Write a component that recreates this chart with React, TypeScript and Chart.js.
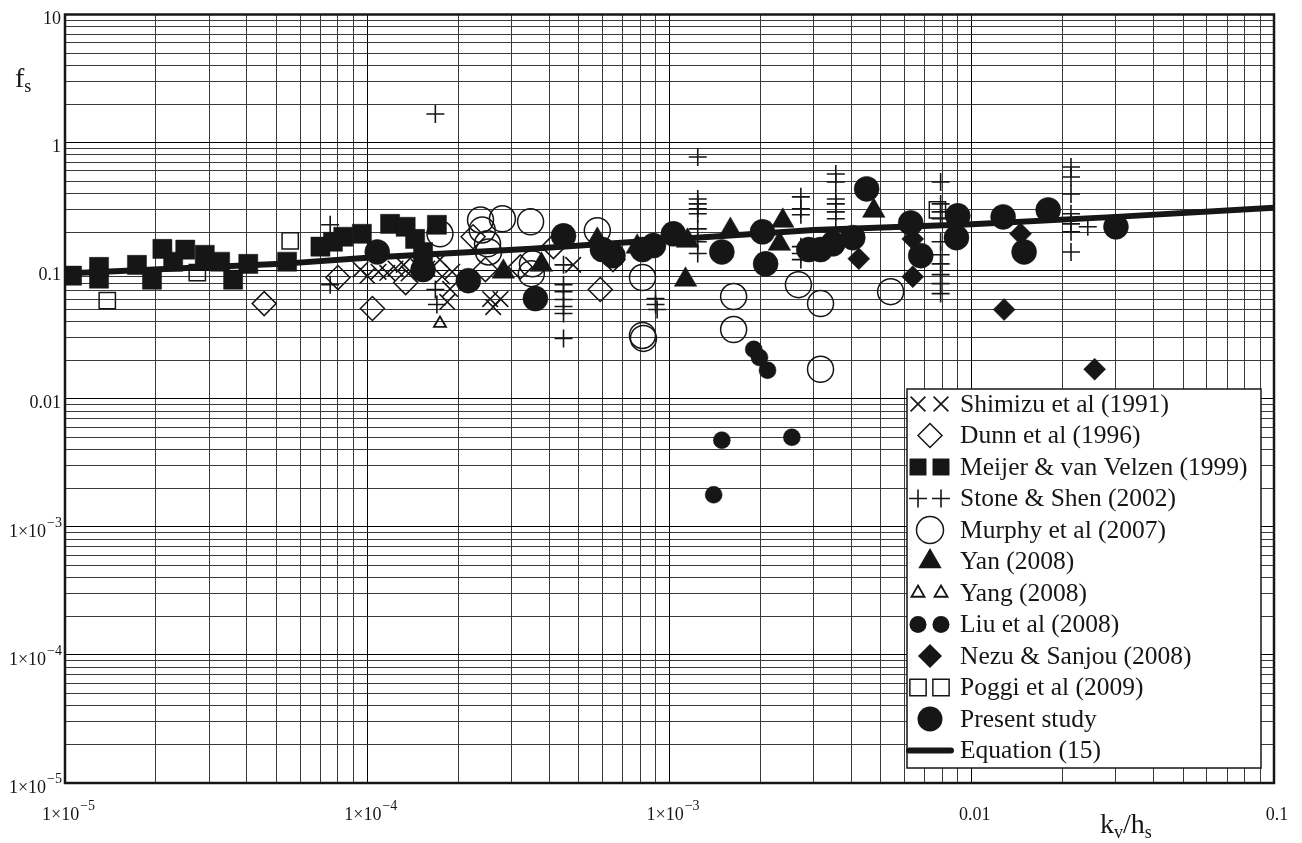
import React, { useEffect, useRef } from "react";
import { Chart, registerables } from "chart.js";
Chart.register(...registerables);

type Pt = [number, number];

// ---------- data (x = kv/hs, y = fs) ----------
const shimizu: Pt[] = [
  [9.5e-5, 0.102], [1.0e-4, 0.091], [1.09e-4, 0.098], [1.165e-4, 0.096], [1.24e-4, 0.104],
  [1.32e-4, 0.111], [1.37e-4, 0.095], [1.48e-4, 0.107], [1.58e-4, 0.104], [1.74e-4, 0.122],
  [1.77e-4, 0.09], [1.91e-4, 0.098], [1.88e-4, 0.072], [1.84e-4, 0.057], [2.55e-4, 0.06],
  [2.76e-4, 0.06], [2.61e-4, 0.052], [4.8e-4, 0.111],
];
const dunn: Pt[] = [
  [4.56e-5, 0.0553], [8.0e-5, 0.0883], [1.04e-4, 0.0506], [1.34e-4, 0.0807], [2.24e-4, 0.184],
  [2.46e-4, 0.102], [3.21e-4, 0.107], [4.13e-4, 0.154], [5.9e-4, 0.0712], [6.5e-4, 0.122],
];
const meijer: Pt[] = [
  [1.055e-5, 0.0914], [1.296e-5, 0.107], [1.296e-5, 0.0866], [1.73e-5, 0.111], [1.94e-5, 0.085],
  [2.1e-5, 0.148], [2.28e-5, 0.1175], [2.5e-5, 0.146], [2.9e-5, 0.133], [3.26e-5, 0.1175],
  [3.6e-5, 0.085], [4.04e-5, 0.113], [5.43e-5, 0.1175], [7.0e-5, 0.154], [7.7e-5, 0.168],
  [8.33e-5, 0.184], [9.6e-5, 0.194], [1.19e-4, 0.232], [1.34e-4, 0.22], [1.44e-4, 0.177],
  [1.7e-4, 0.228], [1.53e-4, 0.14],
];
const stone: Pt[] = [
  [7.54e-5, 0.228], [7.54e-5, 0.0778], [1.68e-4, 1.67], [1.68e-4, 0.0712], [1.7e-4, 0.0544],
  [4.46e-4, 0.111], [4.46e-4, 0.0778], [4.46e-4, 0.0686], [4.46e-4, 0.0595], [4.46e-4, 0.0525],
  [4.46e-4, 0.0463], [4.46e-4, 0.0296],
  [8.99e-4, 0.0605], [8.99e-4, 0.0544], [9.1e-4, 0.0497],
  [1.24e-3, 0.771], [1.24e-3, 0.363], [1.24e-3, 0.332], [1.24e-3, 0.304], [1.24e-3, 0.278],
  [1.24e-3, 0.212], [1.24e-3, 0.168], [1.24e-3, 0.136],
  [2.72e-3, 0.377], [2.72e-3, 0.304], [2.72e-3, 0.273], [2.72e-3, 0.154], [2.72e-3, 0.136], [2.72e-3, 0.122],
  [3.55e-3, 0.569], [3.55e-3, 0.493], [3.55e-3, 0.363], [3.55e-3, 0.332], [3.55e-3, 0.288], [3.55e-3, 0.254],
  [7.89e-3, 0.493], [7.89e-3, 0.332], [7.89e-3, 0.288], [7.89e-3, 0.254], [7.89e-3, 0.168],
  [7.89e-3, 0.133], [7.89e-3, 0.113], [7.89e-3, 0.0931], [7.89e-3, 0.0792], [7.89e-3, 0.0662],
  [2.13e-2, 0.645], [2.13e-2, 0.539], [2.13e-2, 0.397], [2.13e-2, 0.278], [2.13e-2, 0.232],
  [2.13e-2, 0.201], [2.13e-2, 0.14], [2.42e-2, 0.22],
];
const murphy: Pt[] = [
  [1.74e-4, 0.194], [2.37e-4, 0.249], [2.4e-4, 0.208], [2.5e-4, 0.162], [2.52e-4, 0.14],
  [2.8e-4, 0.254], [3.47e-4, 0.241], [3.52e-4, 0.113], [3.49e-4, 0.0948], [5.77e-4, 0.205],
  [8.14e-4, 0.0883], [8.14e-4, 0.0312], [8.2e-4, 0.0296], [1.63e-3, 0.0628], [1.63e-3, 0.0347],
  [2.67e-3, 0.0778], [3.16e-3, 0.0553], [3.16e-3, 0.017], [5.39e-3, 0.0686],
];
const yan: Pt[] = [
  [2.82e-4, 0.0982], [3.77e-4, 0.111], [5.77e-4, 0.174], [7.82e-4, 0.154], [1.147e-3, 0.171],
  [1.13e-3, 0.085], [1.59e-3, 0.208], [2.37e-3, 0.245], [2.31e-3, 0.162], [4.74e-3, 0.293],
];
const yang: Pt[] = [[1.74e-4, 0.0387]];
const liu: Pt[] = [
  [1.4e-3, 1.78e-3], [1.49e-3, 4.75e-3], [2.54e-3, 5.0e-3], [1.9e-3, 0.0243], [1.985e-3, 0.021],
  [2.11e-3, 0.0167],
];
const nezu: Pt[] = [
  [4.23e-3, 0.124], [6.38e-3, 0.177], [6.38e-3, 0.0897], [1.45e-2, 0.194], [1.28e-2, 0.0497],
  [2.55e-2, 0.017],
];
const poggi: Pt[] = [[1.38e-5, 0.0584], [2.74e-5, 0.0965], [5.56e-5, 0.171], [7.7e-3, 0.298]];
const present: Pt[] = [
  [1.079e-4, 0.14], [1.53e-4, 0.102], [2.16e-4, 0.0836], [3.6e-4, 0.0605], [4.46e-4, 0.187],
  [6.0e-4, 0.146], [6.5e-4, 0.131], [8.14e-4, 0.146], [8.85e-4, 0.157], [1.03e-3, 0.194],
  [1.49e-3, 0.14], [2.03e-3, 0.201], [2.08e-3, 0.113], [2.89e-3, 0.146], [3.16e-3, 0.146],
  [3.47e-3, 0.162], [4.04e-3, 0.181], [4.49e-3, 0.435], [6.28e-3, 0.236], [6.78e-3, 0.131],
  [8.99e-3, 0.268], [8.9e-3, 0.181], [1.27e-2, 0.263], [1.49e-2, 0.14], [1.79e-2, 0.298],
  [3.0e-2, 0.22],
];
const eqX = [1e-5, 5.2e-5, 1e-4, 3.5e-4, 1e-3, 3e-3, 1e-2, 3e-2, 0.1];
const eqY = [0.095, 0.113, 0.126, 0.148, 0.175, 0.208, 0.23, 0.263, 0.31];

const legendLabels = [
  "Shimizu et al (1991)", "Dunn et al (1996)", "Meijer & van Velzen (1999)", "Stone & Shen (2002)",
  "Murphy et al (2007)", "Yan (2008)", "Yang (2008)", "Liu et al (2008)", "Nezu & Sanjou (2008)",
  "Poggi et al (2009)", "Present study", "Equation (15)",
];

const xTickValues = [1e-5, 1e-4, 1e-3, 0.01, 0.1];
const xTickLabels = ["1×10^−5", "1×10^−4", "1×10^−3", "0.01", "0.1"];
const yTickValues = [10, 1, 0.1, 0.01, 1e-3, 1e-4, 1e-5];
const yTickLabels = ["10", "1", "0.1", "0.01", "1×10^−3", "1×10^−4", "1×10^−5"];

const X_MIN = 1e-5, X_MAX = 0.1, Y_MIN = 1e-5, Y_MAX = 10;

// ---------- styling ----------
const INK = "#161616";
const FONT = '"Liberation Serif", "Times New Roman", serif';

type Sym = { style: string; r: number; filled: boolean; double: boolean; lw?: number };
const symbols: Sym[] = [
  { style: "crossRot", r: 10.5, filled: false, double: true, lw: 1.6 },
  { style: "rectRot", r: 12, filled: false, double: false },
  { style: "rect", r: 12, filled: true, double: true },
  { style: "cross", r: 9, filled: false, double: true, lw: 1.6 },
  { style: "circle", r: 13.5, filled: false, double: false },
  { style: "triangle", r: 13.5, filled: true, double: false },
  { style: "triangle", r: 7.5, filled: false, double: true, lw: 1.8 },
  { style: "circle", r: 8.5, filled: true, double: true },
  { style: "rectRot", r: 12, filled: true, double: false },
  { style: "rect", r: 11.5, filled: false, double: true },
  { style: "circle", r: 12.5, filled: true, double: false },
  { style: "line", r: 0, filled: false, double: false },
];

function gridValues(min: number, max: number): number[] {
  const out: number[] = [];
  const e0 = Math.round(Math.log10(min));
  const e1 = Math.round(Math.log10(max));
  for (let e = e0; e < e1; e++) {
    for (let k = 1; k <= 9; k++) out.push(parseFloat((k * Math.pow(10, e)).toPrecision(6)));
  }
  out.push(max);
  return out;
}

function isPow10(v: number) {
  const l = Math.log10(v);
  return Math.abs(l - Math.round(l)) < 1e-6;
}

function drawShape(ctx: CanvasRenderingContext2D, s: Sym, x: number, y: number) {
  const r = s.r;
  ctx.beginPath();
  switch (s.style) {
    case "circle":
      ctx.arc(x, y, r, 0, Math.PI * 2);
      break;
    case "rect": {
      const h = r * Math.SQRT1_2;
      ctx.rect(x - h, y - h, 2 * h, 2 * h);
      break;
    }
    case "rectRot":
      ctx.moveTo(x - r, y); ctx.lineTo(x, y - r); ctx.lineTo(x + r, y); ctx.lineTo(x, y + r); ctx.closePath();
      break;
    case "triangle":
      ctx.moveTo(x, y - r);
      ctx.lineTo(x + r * Math.sin((2 * Math.PI) / 3), y - r * Math.cos((2 * Math.PI) / 3));
      ctx.lineTo(x + r * Math.sin((4 * Math.PI) / 3), y - r * Math.cos((4 * Math.PI) / 3));
      ctx.closePath();
      break;
    case "cross":
      ctx.moveTo(x - r, y); ctx.lineTo(x + r, y); ctx.moveTo(x, y - r); ctx.lineTo(x, y + r);
      break;
    case "crossRot": {
      const h = r * Math.SQRT1_2;
      ctx.moveTo(x - h, y - h); ctx.lineTo(x + h, y + h); ctx.moveTo(x - h, y + h); ctx.lineTo(x + h, y - h);
      break;
    }
  }
  if (s.filled) {
    ctx.fillStyle = INK;
    ctx.fill();
  } else {
    ctx.strokeStyle = INK;
    ctx.lineWidth = s.lw ?? 1.5;
    ctx.stroke();
  }
}

function drawSupLabel(ctx: CanvasRenderingContext2D, label: string, x: number, baseline: number,
  align: "left" | "right" | "center", size: number) {
  const [base, sup] = label.split("^");
  const supSize = Math.round(size * 0.75);
  ctx.font = `${size}px ${FONT}`;
  const bw = ctx.measureText(base).width;
  let sw = 0;
  if (sup) {
    ctx.font = `${supSize}px ${FONT}`;
    sw = ctx.measureText(sup).width;
  }
  const total = bw + sw;
  const x0 = align === "right" ? x - total : align === "center" ? x - total / 2 : x;
  ctx.textAlign = "left";
  ctx.textBaseline = "alphabetic";
  ctx.fillStyle = INK;
  ctx.font = `${size}px ${FONT}`;
  ctx.fillText(base, x0, baseline);
  if (sup) {
    ctx.font = `${supSize}px ${FONT}`;
    ctx.fillText(sup, x0 + bw + 1, baseline - size * 0.55);
  }
}

function drawSubText(ctx: CanvasRenderingContext2D, parts: [string, boolean][], x: number, baseline: number,
  size: number, subSize: number) {
  let cx = x;
  ctx.textAlign = "left";
  ctx.textBaseline = "alphabetic";
  ctx.fillStyle = INK;
  for (const [t, sub] of parts) {
    ctx.font = `${sub ? subSize : size}px ${FONT}`;
    ctx.fillText(t, cx, sub ? baseline + size * 0.18 : baseline);
    cx += ctx.measureText(t).width;
  }
}

const decorPlugin = {
  id: "decor",
  afterDraw(chart: any) {
    const ctx: CanvasRenderingContext2D = chart.ctx;
    const { left, top, right, bottom } = chart.chartArea;
    const xs = chart.scales.x, ys = chart.scales.y;
    ctx.save();
    // frame
    ctx.strokeStyle = INK;
    ctx.lineWidth = 2.5;
    ctx.strokeRect(left, top, right - left, bottom - top);

    // tick labels
    yTickValues.forEach((v, i) => {
      const py = ys.getPixelForValue(v);
      const lab = yTickLabels[i];
      drawSupLabel(ctx, lab, left - 4, py + (lab.includes("^") ? 10 : 9), "right", 18);
    });
    xTickValues.forEach((v, i) => {
      const px = xs.getPixelForValue(v);
      drawSupLabel(ctx, xTickLabels[i], px + 3, 820, "center", 18);
    });

    // axis titles
    drawSubText(ctx, [["f", false], ["s", true]], 15, 87, 28, 18);
    drawSubText(ctx, [["k", false], ["v", true], ["/h", false], ["s", true]], 1100, 833, 28, 18);

    // legend
    const lx = 907, ly = 389, lw = 354, lh = 379;
    ctx.fillStyle = "#ffffff";
    ctx.fillRect(lx, ly, lw, lh);
    ctx.strokeStyle = INK;
    ctx.lineWidth = 1.5;
    ctx.strokeRect(lx, ly, lw, lh);
    legendLabels.forEach((lab, i) => {
      const cy = 404 + i * 31.5;
      const s = symbols[i];
      if (s.style === "line") {
        ctx.beginPath();
        ctx.moveTo(909, cy);
        ctx.lineTo(951, cy);
        ctx.strokeStyle = INK;
        ctx.lineWidth = 6;
        ctx.lineCap = "round";
        ctx.stroke();
        ctx.lineCap = "butt";
      } else if (s.double) {
        drawShape(ctx, s, 918, cy);
        drawShape(ctx, s, 941, cy);
      } else {
        drawShape(ctx, s, 930, cy);
      }
      ctx.font = `25.5px ${FONT}`;
      ctx.fillStyle = INK;
      ctx.textAlign = "left";
      ctx.textBaseline = "middle";
      ctx.fillText(lab, 960, cy + 1);
    });
    ctx.restore();
  },
};

const seriesList: Pt[][] = [shimizu, dunn, meijer, stone, murphy, yan, yang, liu, nezu, poggi, present];
const plotRadius = [11, 12, 13.5, 9, 13, 13, 7, 8.5, 11, 11.5, 12.5];

export default function App() {
  const ref = useRef<HTMLCanvasElement | null>(null);
  useEffect(() => {
    document.body.style.margin = "0";
    document.body.style.background = "#ffffff";
    if (!ref.current) return;
    const scatterSets = seriesList.map((data, i) => {
      const s = symbols[i];
      return {
        label: legendLabels[i],
        data: data.map(([x, y]) => ({ x, y })),
        showLine: false,
        pointStyle: s.style,
        pointRadius: plotRadius[i],
        pointHoverRadius: plotRadius[i],
        pointBackgroundColor: s.filled ? INK : "rgba(0,0,0,0)",
        pointBorderColor: INK,
        pointBorderWidth: s.filled ? 0.5 : s.lw ?? 1.5,
      };
    });
    const eqSet = {
      label: legendLabels[11],
      data: eqX.map((x, i) => ({ x, y: eqY[i] })),
      showLine: true,
      pointRadius: 0,
      borderColor: INK,
      borderWidth: 6,
      tension: 0,
      fill: false,
    };
    const gridColor = (c: any) => {
      const v = c.tick ? c.tick.value : 1;
      return isPow10(v) ? "#000000" : "#3a3a3a";
    };
    const chart = new Chart(ref.current, {
      type: "scatter",
      data: { datasets: [eqSet as any, ...scatterSets.slice().reverse()] },
      options: {
        animation: false,
        responsive: false,
        devicePixelRatio: 1,
        layout: { padding: { left: 65, top: 12, right: 28, bottom: 60 } },
        plugins: { legend: { display: false }, tooltip: { enabled: false } },
        events: [],
        scales: {
          x: {
            type: "logarithmic",
            min: X_MIN,
            max: X_MAX,
            afterBuildTicks: (scale: any) => {
              scale.ticks = gridValues(X_MIN, X_MAX).map((v) => ({ value: v }));
            },
            ticks: { display: false },
            grid: { color: gridColor, lineWidth: 1, drawTicks: false },
            border: { display: false },
          },
          y: {
            type: "logarithmic",
            min: Y_MIN,
            max: Y_MAX,
            afterBuildTicks: (scale: any) => {
              scale.ticks = gridValues(Y_MIN, Y_MAX).map((v) => ({ value: v }));
            },
            ticks: { display: false },
            grid: { color: gridColor, lineWidth: 1, drawTicks: false },
            border: { display: false },
          },
        },
      },
      plugins: [decorPlugin],
    });
    return () => chart.destroy();
  }, []);
  return (
    <div style={{ width: 1302, height: 843, background: "#fff" }}>
      <canvas ref={ref} width={1302} height={843} style={{ display: "block" }} />
    </div>
  );
}
